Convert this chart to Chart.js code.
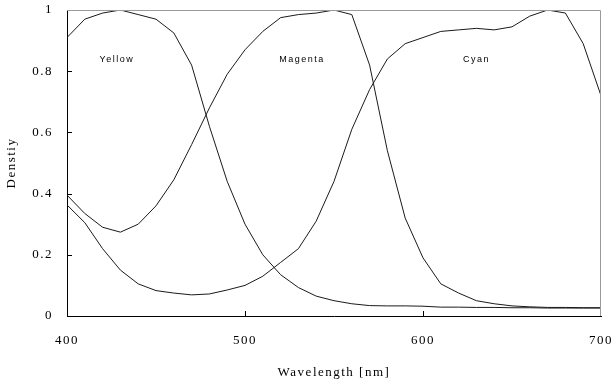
<!DOCTYPE html>
<html>
<head>
<meta charset="utf-8">
<script src="https://cdn.jsdelivr.net/npm/chart.js@4.4.1/dist/chart.umd.min.js"></script>
<style>
  html, body { margin: 0; padding: 0; background: #fff; }
  #wrap { width: 612px; height: 383px; }
</style>
</head>
<body>
<div id="wrap"><canvas id="densityChart" width="612" height="383"></canvas></div>
<script>
const wavelengths = [400, 410, 420, 430, 440, 450, 460, 470, 480, 490, 500, 510, 520, 530, 540, 550,
  560, 570, 580, 590, 600, 610, 620, 630, 640, 650, 660, 670, 680, 690, 700];
const yellow = [0.91, 0.97, 0.99, 1.0, 0.985, 0.97, 0.925, 0.82, 0.62, 0.44, 0.30, 0.20, 0.135, 0.093, 0.065, 0.05,
  0.04, 0.034, 0.033, 0.033, 0.032, 0.029, 0.029, 0.028, 0.028, 0.027, 0.027, 0.026, 0.026, 0.026, 0.026];
const magenta = [0.395, 0.335, 0.29, 0.274, 0.30, 0.36, 0.445, 0.56, 0.68, 0.79, 0.87, 0.93, 0.975, 0.985, 0.99, 1.0,
  0.985, 0.82, 0.54, 0.32, 0.19, 0.105, 0.075, 0.05, 0.04, 0.033, 0.03, 0.028, 0.028, 0.027, 0.027];
const cyan = [0.363, 0.305, 0.22, 0.15, 0.105, 0.083, 0.075, 0.069, 0.072, 0.085, 0.10, 0.13, 0.175, 0.22, 0.31, 0.44,
  0.61, 0.74, 0.84, 0.89, 0.91, 0.93, 0.935, 0.94, 0.935, 0.945, 0.98, 1.0, 0.99, 0.89, 0.72];
const xTicks = [400, 500, 600, 700];
const yTicks = [0, 0.2, 0.4, 0.6, 0.8, 1];
const curveNames = ['Yellow', 'Magenta', 'Cyan'];
const labelSpots = [[428, 0.837], [532, 0.837], [630, 0.837]];

function toPoints(vals) {
  return vals.map((v, i) => ({ x: wavelengths[i], y: v }));
}

// frame, inward ticks and the curve names
const extras = {
  id: 'extras',
  beforeDraw(chart) {
    chart.ctx.letterSpacing = '1.5px';
  },
  afterDraw(chart) {
    const { ctx, chartArea: a, scales: { x, y } } = chart;
    ctx.save();
    ctx.lineWidth = 1;
    ctx.strokeStyle = '#9a9a9a';
    ctx.beginPath();
    ctx.moveTo(a.left, a.top + 0.5);
    ctx.lineTo(a.right - 0.5, a.top + 0.5);
    ctx.lineTo(a.right - 0.5, a.bottom);
    ctx.stroke();

    ctx.strokeStyle = '#000';
    ctx.beginPath();
    yTicks.slice(1, -1).forEach(v => {
      const py = Math.round(y.getPixelForValue(v)) + 0.5;
      ctx.moveTo(a.left, py);
      ctx.lineTo(a.left + 5, py);
    });
    xTicks.slice(1, -1).forEach(v => {
      const px = Math.round(x.getPixelForValue(v)) + 0.5;
      ctx.moveTo(px, a.bottom);
      ctx.lineTo(px, a.bottom - 5);
    });
    ctx.stroke();

    ctx.fillStyle = '#000';
    ctx.font = '9px "Liberation Sans"';
    ctx.letterSpacing = '1.5px';
    ctx.textAlign = 'center';
    ctx.textBaseline = 'middle';
    curveNames.forEach((name, i) => {
      ctx.fillText(name, x.getPixelForValue(labelSpots[i][0]), y.getPixelForValue(labelSpots[i][1]));
    });
    ctx.restore();
  }
};

const ctx = document.getElementById('densityChart').getContext('2d');
new Chart(ctx, {
  type: 'line',
  data: {
    datasets: [yellow, magenta, cyan].map((vals, i) => ({
      label: curveNames[i],
      data: toPoints(vals),
      borderColor: '#1a1a1a',
      borderWidth: 1,
      pointRadius: 0,
      tension: 0,
      fill: false
    }))
  },
  options: {
    responsive: false,
    animation: false,
    layout: { padding: { left: 0, top: 10, right: 11, bottom: 0 } },
    plugins: { legend: { display: false }, tooltip: { enabled: false } },
    font: { family: '"Liberation Serif"' },
    scales: {
      x: {
        type: 'linear',
        min: 400,
        max: 700,
        afterFit: s => { s.height = 67; s.paddingLeft = 0; s.paddingRight = 0; },
        afterBuildTicks: s => { s.ticks = xTicks.map(v => ({ value: v })); },
        grid: { display: true, drawOnChartArea: false, drawTicks: false },
        border: { display: true, color: '#000', width: 1 },
        ticks: { color: '#000', padding: 17, maxRotation: 0, font: { family: '"Liberation Serif"', size: 13 } },
        title: {
          display: true,
          text: 'Wavelength [nm]',
          color: '#000',
          padding: { top: 0, bottom: 3 },
          font: { family: '"Liberation Serif"', size: 13 }
        }
      },
      y: {
        min: 0,
        max: 1,
        afterFit: s => { s.width = 67; s.paddingTop = 0; s.paddingBottom = 0; },
        afterBuildTicks: s => { s.ticks = yTicks.map(v => ({ value: v })); },
        grid: { display: true, drawOnChartArea: false, drawTicks: false },
        border: { display: true, color: '#000', width: 1 },
        ticks: {
          color: '#000',
          padding: 14,
          font: { family: '"Liberation Serif"', size: 13 },
          callback: v => String(Math.round(v * 10) / 10)
        },
        title: {
          display: true,
          text: 'Denstiy',
          color: '#000',
          padding: { top: 4, bottom: 0 },
          font: { family: '"Liberation Serif"', size: 13 }
        }
      }
    }
  },
  plugins: [extras]
});
</script>
</body>
</html>
